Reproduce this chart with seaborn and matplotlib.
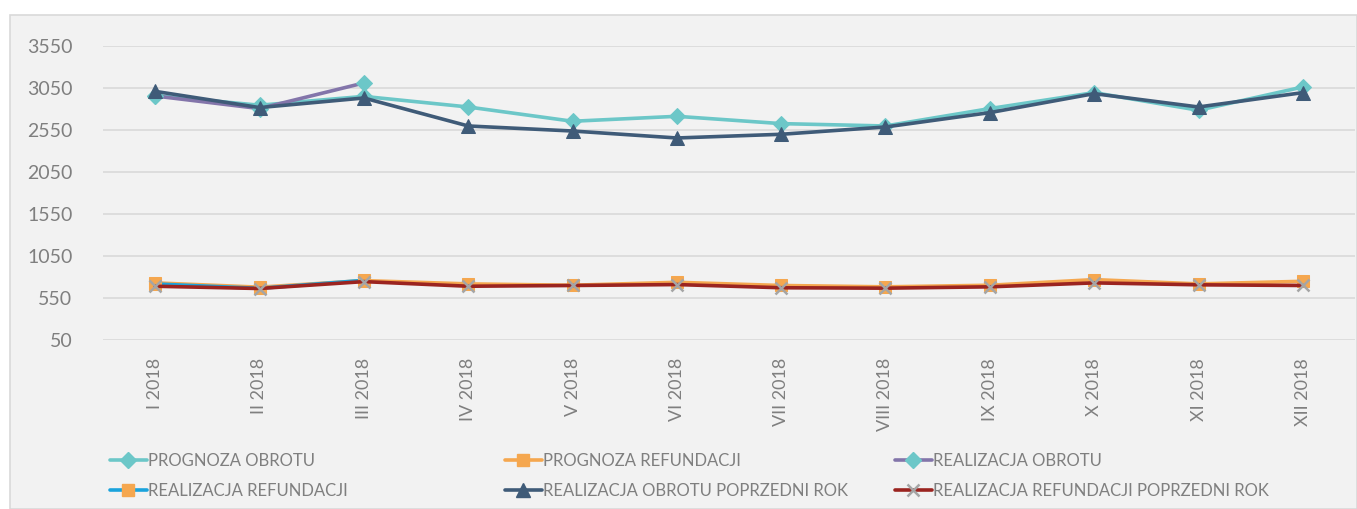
import pandas as pd
import matplotlib
matplotlib.use("Agg")
import matplotlib.pyplot as plt
from matplotlib.patches import Rectangle
from matplotlib.lines import Line2D
import seaborn as sns

# dane
months = ["I 2018", "II 2018", "III 2018", "IV 2018", "V 2018", "VI 2018",
          "VII 2018", "VIII 2018", "IX 2018", "X 2018", "XI 2018", "XII 2018"]
prognoza_obrotu = [2960, 2845, 2950, 2824, 2654, 2713, 2626, 2598, 2805, 2995, 2785, 3062]
prognoza_refundacji = [730, 679, 757, 718, 702, 737, 699, 683, 702, 769, 718, 749]
realizacja_obrotu = [2955, 2805, 3110]
realizacja_refundacji = [717, 665, 760]
obrot_poprzedni_rok = [3010, 2817, 2931, 2598, 2538, 2455, 2499, 2586, 2757, 2983, 2824, 2995]
refundacja_poprzedni_rok = [690, 663, 745, 690, 699, 710, 672, 667, 683, 730, 707, 699]
y_ticks = [50, 550, 1050, 1550, 2050, 2550, 3050, 3550]

series = [
    ("PROGNOZA OBROTU", prognoza_obrotu),
    ("PROGNOZA REFUNDACJI", prognoza_refundacji),
    ("REALIZACJA OBROTU", realizacja_obrotu),
    ("REALIZACJA REFUNDACJI", realizacja_refundacji),
    ("REALIZACJA OBROTU POPRZEDNI ROK", obrot_poprzedni_rok),
    ("REALIZACJA REFUNDACJI POPRZEDNI ROK", refundacja_poprzedni_rok),
]
rows = []
for name, vals in series:
    for m, v in zip(months, vals):
        rows.append({"miesiac": m, "wartosc": v, "seria": name})
df = pd.DataFrame(rows)

# styl: kolor linii, marker, kolor markera, rozmiar
styles = {
    "PROGNOZA OBROTU": ("#6cc7c8", "D", "#6cc7c8", 8),
    "PROGNOZA REFUNDACJI": ("#f5a74f", "s", "#f5a74f", 9),
    "REALIZACJA OBROTU": ("#8375aa", "D", "#6cc7c8", 8),
    "REALIZACJA REFUNDACJI": ("#1aa3dc", "s", "#f5a74f", 9),
    "REALIZACJA OBROTU POPRZEDNI ROK": ("#3f5b78", "^", "#3f5b78", 10),
    "REALIZACJA REFUNDACJI POPRZEDNI ROK": ("#9b2420", "x", "#a5a5a5", 8),
}

sns.set_style("white")
plt.rcParams["font.family"] = ["Lato", "DejaVu Sans"]
gray = "#7f7f7f"

fig = plt.figure(figsize=(13.57, 5.09), dpi=100)
fig.patch.set_facecolor("white")
fig.patches.append(Rectangle((10 / 1357, 0), 1 - 10 / 1357, (509 - 15) / 509,
                             transform=fig.transFigure, facecolor="#f2f2f2",
                             edgecolor="#d9d9d9", linewidth=1.2, zorder=-5))
ax = fig.add_axes([103 / 1357, 1 - 340 / 509, (1355 - 103) / 1357, (340 - 46) / 509])
ax.set_facecolor("none")

for name, _ in series:
    color, marker, mcolor, ms = styles[name]
    sub = df[df["seria"] == name]
    kw = dict(markerfacecolor=mcolor, markeredgecolor=mcolor)
    if marker == "x":
        kw["markeredgewidth"] = 1.8
    sns.lineplot(data=sub, x="miesiac", y="wartosc", ax=ax, color=color,
                 marker=marker, markersize=ms, linewidth=2.6, sort=False,
                 legend=False, **kw)

ax.set_xlim(-0.5, len(months) - 0.5)
ax.set_ylim(50, 3550)
ax.set_yticks(y_ticks)
ax.set_xticks(range(len(months)))
ax.set_xticklabels(months, rotation=90)
ax.grid(axis="y", color="#d9d9d9", linewidth=1.2)
ax.grid(axis="x", visible=False)
ax.set_axisbelow(True)
for s in ax.spines.values():
    s.set_visible(False)
ax.tick_params(axis="y", length=0, pad=22, labelsize=14, labelcolor=gray)
ax.tick_params(axis="x", length=0, pad=13, labelsize=13, labelcolor=gray)
ax.set_xlabel("")
ax.set_ylabel("")

# legenda w trzech kolumnach
def handle(name):
    color, marker, mcolor, ms = styles[name]
    return Line2D([], [], color=color, linewidth=2.6, marker=marker, markersize=ms,
                  markerfacecolor=mcolor, markeredgecolor=mcolor,
                  markeredgewidth=1.8 if marker == "x" else 1)

columns = [
    (110, ["PROGNOZA OBROTU", "REALIZACJA REFUNDACJI"]),
    (505, ["PROGNOZA REFUNDACJI", "REALIZACJA OBROTU POPRZEDNI ROK"]),
    (895, ["REALIZACJA OBROTU", "REALIZACJA REFUNDACJI POPRZEDNI ROK"]),
]
for x0, names in columns:
    fig.legend([handle(n) for n in names], names, loc="upper left",
               bbox_to_anchor=(x0 / 1357, 1 - 453 / 509), frameon=False,
               fontsize=12, labelcolor=gray, handlelength=2.2, handletextpad=0.1,
               labelspacing=0.85, borderpad=0, borderaxespad=0)

fig.savefig("out.png", dpi=100, facecolor=fig.get_facecolor())
